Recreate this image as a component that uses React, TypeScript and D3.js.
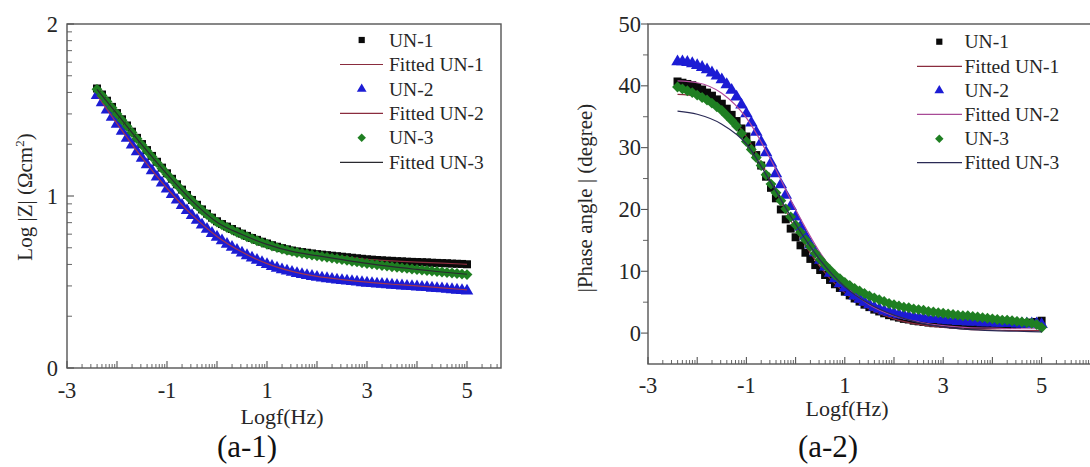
import React from 'react';
import * as d3 from 'd3';

// Frequency grid (log10 f, Hz) of the measured points
const logf = [
  -2.4, -2.3, -2.2, -2.1, -2.0, -1.9, -1.8, -1.7, -1.6, -1.5, -1.4, -1.3, -1.2, -1.1, -1.0,
  -0.9, -0.8, -0.7, -0.6, -0.5, -0.4, -0.3, -0.2, -0.1, 0.0, 0.1, 0.2, 0.3, 0.4, 0.5, 0.6,
  0.7, 0.8, 0.9, 1.0, 1.1, 1.2, 1.3, 1.4, 1.5, 1.6, 1.7, 1.8, 1.9, 2.0, 2.1, 2.2, 2.3, 2.4,
  2.5, 2.6, 2.7, 2.8, 2.9, 3.0, 3.1, 3.2, 3.3, 3.4, 3.5, 3.6, 3.7, 3.8, 3.9, 4.0, 4.1, 4.2,
  4.3, 4.4, 4.5, 4.6, 4.7, 4.8, 4.9, 5.0,
];

// Frequency grid of the equivalent-circuit fits
const fitLogf = [-2.4, -2.0, -1.5, -1.0, -0.5, 0.0, 0.5, 1.0, 1.5, 2.0, 2.5, 3.0, 3.5, 4.0, 4.5, 5.0];

// Log |Z| (Ω cm²)
const logZ_UN1 = [
  1.625, 1.590, 1.554, 1.518, 1.482, 1.446, 1.410, 1.374, 1.338, 1.302, 1.267, 1.233, 1.199, 1.165, 1.132,
  1.100, 1.068, 1.037, 1.006, 0.977, 0.949, 0.922, 0.897, 0.874,
  0.853, 0.837, 0.822, 0.808, 0.794, 0.781, 0.768, 0.756, 0.745, 0.734, 0.724, 0.714, 0.705, 0.697, 0.690,
  0.683, 0.678, 0.674, 0.670, 0.666, 0.662, 0.659, 0.656, 0.653, 0.650, 0.647, 0.644, 0.641, 0.638, 0.635,
  0.632, 0.630, 0.628, 0.626, 0.624, 0.623, 0.621, 0.620, 0.618, 0.617, 0.616, 0.615, 0.614, 0.612, 0.611,
  0.610, 0.609, 0.607, 0.606, 0.605, 0.603,
];
const logZ_UN2 = [
  1.585, 1.543, 1.501, 1.459, 1.418, 1.377, 1.337, 1.297, 1.258, 1.220, 1.183, 1.147, 1.111, 1.076, 1.042,
  1.009, 0.977, 0.946, 0.916, 0.887, 0.859, 0.832, 0.807, 0.783,
  0.761, 0.740, 0.720, 0.702, 0.685, 0.669, 0.654, 0.640, 0.627, 0.614, 0.602,
  0.591, 0.581, 0.572, 0.564, 0.557, 0.550, 0.544, 0.538, 0.533, 0.528,
  0.524, 0.520, 0.516, 0.512, 0.509, 0.506, 0.503, 0.500, 0.497, 0.494,
  0.492, 0.489, 0.487, 0.485, 0.482, 0.480, 0.478, 0.476, 0.474, 0.472,
  0.470, 0.468, 0.465, 0.463, 0.461, 0.458, 0.456, 0.453, 0.451, 0.448,
];
const logZ_UN3 = [
  1.620, 1.585, 1.549, 1.513, 1.477, 1.441, 1.405, 1.369, 1.333, 1.297, 1.262, 1.228, 1.194, 1.160, 1.127,
  1.095, 1.063, 1.032, 1.001, 0.972, 0.944, 0.917, 0.892, 0.869,
  0.848, 0.832, 0.817, 0.803, 0.789, 0.776, 0.763, 0.751, 0.740, 0.729, 0.719,
  0.709, 0.700, 0.692, 0.685, 0.678, 0.672, 0.667, 0.662, 0.657, 0.653,
  0.648, 0.644, 0.639, 0.635, 0.630, 0.626, 0.621, 0.617, 0.612, 0.608,
  0.604, 0.600, 0.596, 0.593, 0.589, 0.586, 0.582, 0.579, 0.576, 0.573,
  0.570, 0.567, 0.564, 0.561, 0.558, 0.555, 0.552, 0.549, 0.546, 0.543,
];
const logZFit_UN1 = [1.625, 1.482, 1.302, 1.132, 0.977, 0.853, 0.781, 0.724, 0.683, 0.662, 0.647, 0.632, 0.623, 0.616, 0.610, 0.603];
const logZFit_UN2 = [1.587, 1.421, 1.223, 1.045, 0.890, 0.765, 0.674, 0.607, 0.562, 0.533, 0.514, 0.499, 0.487, 0.477, 0.466, 0.454];
const logZFit_UN3 = [1.620, 1.477, 1.297, 1.127, 0.972, 0.848, 0.776, 0.719, 0.678, 0.653, 0.630, 0.608, 0.589, 0.573, 0.558, 0.545];

// |Phase angle| (degree)
const phase_UN1 = [
  40.7, 40.5, 40.3, 40.1, 39.8, 39.4, 38.9, 38.4, 37.8, 37.1, 36.3, 35.3, 34.3, 33.1, 31.8,
  30.4, 28.8, 27.1, 25.3, 23.5, 21.8, 20.0, 18.4, 16.9,
  15.5, 14.2, 13.0, 12.0, 11.0, 10.2, 9.4, 8.6, 7.9, 7.3, 6.7,
  6.1, 5.6, 5.1, 4.6, 4.2, 3.8, 3.5, 3.2, 2.9, 2.7,
  2.5, 2.3, 2.2, 2.0, 1.9, 1.8, 1.7, 1.6, 1.6, 1.5,
  1.5, 1.4, 1.4, 1.4, 1.3, 1.3, 1.3, 1.3, 1.3, 1.3,
  1.3, 1.3, 1.3, 1.4, 1.4, 1.5, 1.6, 1.7, 1.8, 2.0,
];
const phase_UN2 = [
  43.9, 43.9, 43.8, 43.6, 43.3, 43.0, 42.6, 42.1, 41.6, 41.0, 40.2, 39.3, 38.2, 36.9, 35.5,
  34.0, 32.5, 30.9, 29.2, 27.5, 25.8, 24.0, 22.3, 20.5,
  18.8, 17.2, 15.7, 14.3, 13.0, 11.8, 10.7, 9.7, 8.8, 8.0, 7.3,
  6.6, 6.0, 5.5, 5.0, 4.6, 4.2, 3.9, 3.6, 3.4, 3.2,
  3.0, 2.9, 2.7, 2.6, 2.5, 2.4, 2.3, 2.2, 2.2, 2.1,
  2.0, 2.0, 1.9, 1.9, 1.8, 1.8, 1.8, 1.7, 1.7, 1.7,
  1.6, 1.6, 1.6, 1.6, 1.5, 1.5, 1.5, 1.5, 1.5, 1.4,
];
const phase_UN3 = [
  39.8, 39.5, 39.2, 38.9, 38.5, 38.1, 37.7, 37.2, 36.6, 36.0, 35.2, 34.4, 33.5, 32.3, 31.0,
  29.7, 28.4, 27.1, 25.6, 24.1, 22.7, 21.4, 20.1, 18.8,
  17.5, 16.3, 15.1, 14.0, 12.9, 11.9, 11.0, 10.2, 9.4, 8.8, 8.2,
  7.7, 7.2, 6.8, 6.4, 6.0, 5.7, 5.4, 5.1, 4.8, 4.6,
  4.4, 4.2, 4.1, 3.9, 3.8, 3.7, 3.5, 3.4, 3.3, 3.2,
  3.1, 3.0, 2.9, 2.8, 2.8, 2.7, 2.6, 2.5, 2.4, 2.3,
  2.2, 2.1, 2.1, 2.0, 1.9, 1.8, 1.7, 1.6, 1.4, 0.9,
];
const phaseFit_UN1 = [38.6, 38.3, 36.3, 31.8, 24.5, 16.8, 10.7, 6.5, 3.9, 2.3, 1.4, 0.9, 0.6, 0.5, 0.4, 0.4];
const phaseFit_UN2 = [40.8, 40.5, 38.8, 34.8, 28.0, 20.0, 13.0, 7.8, 4.6, 2.8, 1.8, 1.2, 0.9, 0.8, 0.7, 0.7];
const phaseFit_UN3 = [35.9, 35.4, 33.8, 30.6, 24.3, 17.6, 11.8, 7.5, 4.7, 2.9, 1.7, 1.0, 0.6, 0.4, 0.3, 0.2];

const seriesNames = ['UN-1', 'Fitted UN-1', 'UN-2', 'Fitted UN-2', 'UN-3', 'Fitted UN-3'];
const xTickLabels = [-3, -1, 1, 3, 5];
const logZTickLabels = [0, 1, 2];
const phaseTickLabels = [0, 10, 20, 30, 40, 50];

const SERIF = 'Liberation Serif, Times New Roman, serif';
const TEXT = '#262626';
const AXIS = '#555';

type Kind = 'square' | 'triangle' | 'diamond';

const symbolTypes: Record<Kind, d3.SymbolType> = {
  square: d3.symbolSquare,
  triangle: d3.symbolTriangle,
  diamond: ((d3 as any).symbolDiamond2 || d3.symbolDiamond) as d3.SymbolType,
};
const markerSize: Record<Kind, number> = { square: 64, triangle: 68, diamond: 76 };

function sym(kind: Kind, scale = 1) {
  return d3.symbol().type(symbolTypes[kind]).size(markerSize[kind] * scale)() as string;
}

interface DataSet {
  values: number[];
  kind: Kind;
  color: string;
}
interface FitSet {
  values: number[];
  color: string;
}

interface PanelProps {
  frame: { l: number; t: number; r: number; b: number };
  xDomain: [number, number];
  yDomain: [number, number];
  yMajor: number[];
  yMinor: number[];
  yTicksOut: boolean;
  data: DataSet[];
  fits: FitSet[];
  legendColors: string[];
  legend: { rows: number[]; symX: number; lineX0: number; lineX1: number; textX: number };
  xTitleY: number;
  xTitleX: number;
  xLabelY: number;
  yLabelRight: number;
  yTitle: React.ReactNode;
  yTitlePos: [number, number];
  caption: string;
  captionX: number;
}

function xMinorTicks(max: number) {
  const out: number[] = [];
  for (let k = -3; k < Math.ceil(max); k++) {
    for (let m = 2; m <= 9; m++) {
      const v = k + Math.log10(m);
      if (v < max) out.push(v);
    }
  }
  return out;
}

function Panel(p: PanelProps) {
  const { frame } = p;
  const x = d3.scaleLinear().domain(p.xDomain).range([frame.l, frame.r]);
  const y = d3.scaleLinear().domain(p.yDomain).range([frame.b, frame.t]);

  const fitLine = d3
    .line<number>()
    .x((_, i) => x(fitLogf[i]))
    .y((d) => y(d))
    .curve(d3.curveMonotoneX);

  const xMajor = d3.range(-3, Math.floor(p.xDomain[1]) + 1);
  const xMinor = xMinorTicks(p.xDomain[1]);
  const dir = p.yTicksOut ? -1 : 1;

  return (
    <g>
      {/* axes frame */}
      <rect
        x={frame.l}
        y={frame.t}
        width={frame.r - frame.l}
        height={frame.b - frame.t}
        fill="none"
        stroke={AXIS}
        strokeWidth={1.4}
      />
      {/* bottom axis ticks, pointing inward */}
      {xMajor.map((v) => (
        <line key={'xM' + v} x1={x(v)} x2={x(v)} y1={frame.b} y2={frame.b - 7} stroke={AXIS} strokeWidth={1.1} />
      ))}
      {xMinor.map((v, i) => (
        <line key={'xm' + i} x1={x(v)} x2={x(v)} y1={frame.b} y2={frame.b - 4} stroke={AXIS} strokeWidth={0.9} />
      ))}
      {xTickLabels.map((v) => (
        <text key={'xl' + v} x={x(v)} y={p.xLabelY} textAnchor="middle" fontSize={22.5} fill={TEXT}>
          {v}
        </text>
      ))}
      {/* left axis ticks */}
      {p.yMajor.map((v) => (
        <line key={'yM' + v} x1={frame.l} x2={frame.l + dir * 7} y1={y(v)} y2={y(v)} stroke={AXIS} strokeWidth={1.1} />
      ))}
      {p.yMinor.map((v, i) => (
        <line key={'ym' + i} x1={frame.l} x2={frame.l + dir * 5} y1={y(v)} y2={y(v)} stroke={AXIS} strokeWidth={0.9} />
      ))}
      {p.yMajor.map((v) => (
        <text key={'yl' + v} x={p.yLabelRight} y={y(v) + 7.5} textAnchor="end" fontSize={22.5} fill={TEXT}>
          {v}
        </text>
      ))}
      {/* measured points and fitted curves, in legend order */}
      {p.data.map((ds, si) => (
        <g key={'s' + si}>
          <g fill={ds.color}>
            {ds.values.map((v, i) => (
              <path key={i} d={sym(ds.kind)} transform={`translate(${x(logf[i])},${y(v)})`} />
            ))}
          </g>
          <path d={fitLine(p.fits[si].values) as string} fill="none" stroke={p.fits[si].color} strokeWidth={1.2} />
        </g>
      ))}
      {/* legend */}
      {seriesNames.map((name, i) => {
        const cy = p.legend.rows[i];
        const isFit = i % 2 === 1;
        const ds = p.data[Math.floor(i / 2)];
        return (
          <g key={'lg' + i}>
            {isFit ? (
              <line
                x1={p.legend.lineX0}
                x2={p.legend.lineX1}
                y1={cy}
                y2={cy}
                stroke={p.legendColors[Math.floor(i / 2)]}
                strokeWidth={1.2}
              />
            ) : (
              <path d={sym(ds.kind, 0.6)} transform={`translate(${p.legend.symX},${cy})`} fill={ds.color} />
            )}
            <text x={p.legend.textX} y={cy + 6.5} fontSize={19.5} fill={TEXT}>
              {name}
            </text>
          </g>
        );
      })}
      {/* axis titles */}
      <text x={p.xTitleX} y={p.xTitleY} textAnchor="middle" fontSize={22} fill={TEXT}>
        Logf(Hz)
      </text>
      <text
        transform={`translate(${p.yTitlePos[0]},${p.yTitlePos[1]}) rotate(-90)`}
        textAnchor="middle"
        fontSize={21}
        fill={TEXT}
      >
        {p.yTitle}
      </text>
      <text x={p.captionX} y={457} textAnchor="middle" fontSize={31} fill="#111">
        {p.caption}
      </text>
    </g>
  );
}

export default function App() {
  const black = '#0a0a0a';
  const blue = '#1c1cd4';
  const green = '#1f7f22';

  const logZMinor: number[] = [];
  for (const k of [0, 1]) for (let m = 2; m <= 9; m++) logZMinor.push(k + Math.log10(m));

  return (
    <svg
      width={1090}
      height={467}
      style={{ position: 'absolute', left: 0, top: 0, background: '#fff', fontFamily: SERIF }}
    >
      <rect width={1090} height={467} fill="#fff" />
      <Panel
        frame={{ l: 67, t: 24, r: 501, b: 368 }}
        xDomain={[-3, 5.68]}
        yDomain={[0, 2]}
        yMajor={logZTickLabels}
        yMinor={logZMinor}
        yTicksOut={false}
        data={[
          { values: logZ_UN1, kind: 'square', color: black },
          { values: logZ_UN2, kind: 'triangle', color: blue },
          { values: logZ_UN3, kind: 'diamond', color: green },
        ]}
        fits={[
          { values: logZFit_UN1, color: '#8a2c3e' },
          { values: logZFit_UN2, color: '#a0364f' },
          { values: logZFit_UN3, color: '#2a2a30' },
        ]}
        legendColors={['#8a2c3e', '#8a2c3e', '#2a2a30']}
        legend={{ rows: [40, 64.5, 89, 113.3, 137.7, 162.3], symX: 361.7, lineX0: 340, lineX1: 383, textX: 389 }}
        xTitleX={282}
        xTitleY={424}
        xLabelY={398}
        yLabelRight={58}
        yTitle={
          <>
            Log |Z| (Ωcm<tspan dy={-8} fontSize={13}>2</tspan>
            <tspan dy={8}>)</tspan>
          </>
        }
        yTitlePos={[32, 197]}
        caption="(a-1)"
        captionX={247}
      />
      <Panel
        frame={{ l: 648, t: 24, r: 1090.8, b: 364 }}
        xDomain={[-3, 6]}
        yDomain={[-5, 50]}
        yMajor={phaseTickLabels}
        yMinor={[5, 15, 25, 35, 45]}
        yTicksOut={true}
        data={[
          { values: phase_UN1, kind: 'square', color: black },
          { values: phase_UN2, kind: 'triangle', color: blue },
          { values: phase_UN3, kind: 'diamond', color: green },
        ]}
        fits={[
          { values: phaseFit_UN1, color: '#8a2c3e' },
          { values: phaseFit_UN2, color: '#b04a9a' },
          { values: phaseFit_UN3, color: '#2a2a55' },
        ]}
        legendColors={['#8a2c3e', '#a84a96', '#2a2a55']}
        legend={{ rows: [41.7, 66.3, 90.5, 114.3, 138.7, 162.7], symX: 939.3, lineX0: 917, lineX1: 962, textX: 964.5 }}
        xTitleX={847}
        xTitleY={416}
        xLabelY={393}
        yLabelRight={641}
        yTitle="|Phase angle | (degree)"
        yTitlePos={[592, 198]}
        caption="(a-2)"
        captionX={828}
      />
    </svg>
  );
}
